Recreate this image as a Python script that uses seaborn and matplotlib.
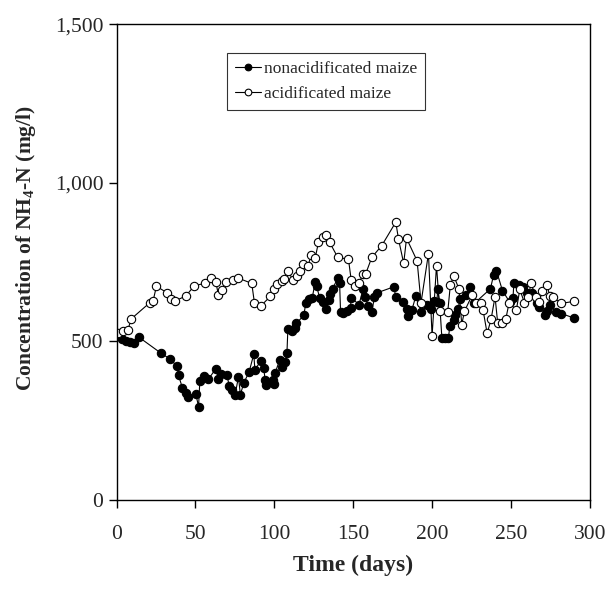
import matplotlib
matplotlib.use("Agg")
import matplotlib.pyplot as plt
from matplotlib.ticker import FuncFormatter
import seaborn as sns
import pandas as pd

# nonacidificated maize (day, NH4-N mg/l)
days_non = [3.4, 5.9, 8.5, 11, 14.3, 27.9, 33.8, 38.4, 39.3, 41.8, 43.9, 45.6, 50.3, 52, 52.8,
            55.3, 58.3, 62.9, 64.6, 66, 70, 71.4, 73, 75.2, 77.3, 78.5, 80.7, 84, 87, 87.7,
            91.3, 93.3, 94.2, 95, 99.2, 100, 100.4, 103.5, 104.6, 106.8, 108, 108.6, 111, 113.2,
            114, 118.7, 120, 121.7, 124, 125.9, 126.8, 128.8, 131, 133, 134.4, 135.6, 137, 140.2,
            141.4, 142, 143.4, 146.1, 148.3, 148.7, 153.7, 156.3, 157.5, 159.5, 161.8, 163.5, 165,
            175.7, 177, 181.6, 183.8, 184.5, 187.2, 189.7, 193.2, 196.5, 199.3, 201, 203, 203.6,
            204.8, 206.2, 208.3, 210.4, 211.2, 213.8, 214.6, 216.3, 218, 221.8, 223.9, 226.8, 237,
            239, 240.8, 244.6, 249.2, 251.3, 251.8, 254.8, 257.7, 260.2, 263.6, 266.5, 267.8,
            271.6, 272.9, 274.6, 278.4, 281.8, 289.8]
conc_non = [507, 501, 499, 496, 513, 464, 445, 422, 393, 353, 337, 326, 334, 294, 375,
            391, 381, 414, 382, 397, 393, 361, 347, 332, 389, 332, 370, 403, 460, 411,
            437, 416, 378, 363, 378, 366, 399, 443, 420, 435, 462, 538, 532, 542,
            557, 582, 622, 634, 636, 687, 674, 637, 624, 603, 630, 651, 666, 700,
            683, 592, 590, 597, 605, 638, 616, 666, 641, 612, 592, 641, 653,
            672, 641, 624, 601, 580, 599, 643, 593, 615, 601, 626, 624, 664,
            622, 511, 511, 511, 548, 567, 582, 603, 634, 647, 672, 620, 666,
            710, 723, 660, 624, 637, 683, 677, 672, 653, 653, 620, 607,
            582, 597, 614, 592, 588, 574]

# acidificated maize
days_acid = [0.8, 3.8, 7.2, 9.3, 21.1, 23.2, 25.3, 32.1, 34.6, 37.2, 43.9, 49.4, 56.2, 59.6, 63,
             64.6, 67.1, 69.7, 73.9, 76.9, 85.7, 87.4, 91.3, 97.5, 99.7, 101.8, 104.6, 106.3, 109,
             111.6, 114.1, 116.2, 118.3, 121.3, 123.3, 125.9, 128, 131, 133, 135, 140.2, 147,
             148.7, 151.2, 153.7, 156.3, 158, 161.8, 168.1, 177, 178.7, 182, 183.8, 190.5, 193,
             197.7, 200, 202.8, 204.9, 209.9, 211.6, 213.8, 217, 218.8, 220.5, 225.5, 227.6, 231,
             232.3, 234.9, 237.4, 239.9, 241.6, 244.1, 246.7, 248.8, 253.4, 255.6, 258.5, 261,
             262.7, 265.7, 267.8, 269.9, 272.9, 274.6, 276.7, 281.8, 289.8]
conc_acid = [527, 534, 536, 571, 622, 628, 674, 653, 634, 628, 643, 676, 683, 700, 687,
             645, 662, 687, 693, 700, 683, 622, 611, 642, 664, 681, 689, 698, 723,
             693, 706, 723, 744, 737, 771, 762, 813, 828, 834, 813, 765, 759,
             695, 676, 685, 712, 714, 765, 802, 876, 823, 746, 825, 754, 622,
             777, 517, 739, 595, 592, 679, 706, 666, 553, 595, 647, 622, 622,
             599, 525, 570, 641, 557, 557, 570, 622, 599, 664, 622, 641,
             683, 641, 624, 660, 677, 643, 639, 620, 626]

x_ticks = [0, 50, 100, 150, 200, 250, 300]
y_ticks = [0, 500, 1000, 1500]

df_non = pd.DataFrame({"day": days_non, "conc": conc_non})
df_acid = pd.DataFrame({"day": days_acid, "conc": conc_acid})

sns.set_style("ticks")
plt.rcParams["font.family"] = ["Liberation Serif", "DejaVu Serif"]
plt.rcParams["mathtext.fontset"] = "custom"
plt.rcParams["mathtext.rm"] = "Liberation Serif"
plt.rcParams["mathtext.bf"] = "Liberation Serif:bold"

fig = plt.figure(figsize=(6.10, 5.89), dpi=100)
ax = fig.add_axes([0.191, 0.151, 0.776, 0.808])

sns.lineplot(data=df_non, x="day", y="conc", sort=False, estimator=None, ax=ax,
             color="black", linewidth=0.8, marker="o", markersize=6,
             markerfacecolor="black", markeredgecolor="black", markeredgewidth=0.8,
             label="nonacidificated maize")
sns.lineplot(data=df_acid, x="day", y="conc", sort=False, estimator=None, ax=ax,
             color="black", linewidth=0.8, marker="o", markersize=6,
             markerfacecolor="white", markeredgecolor="black", markeredgewidth=0.8,
             label="acidificated maize")

ax.set_xlim(0, 300)
ax.set_ylim(0, 1500)
ax.set_xticks(x_ticks)
ax.set_yticks(y_ticks)
ax.yaxis.set_major_formatter(FuncFormatter(lambda v, p: f"{v:,.0f}"))
ax.tick_params(labelsize=15.5, length=6, width=1, color="black")
ax.tick_params(axis="y", pad=3.5)
ax.tick_params(axis="x", pad=12)
for s in ax.spines.values():
    s.set_visible(True)
    s.set_color("black")
    s.set_linewidth(1)

ax.set_xlabel("Time (days)", fontsize=17, fontweight="bold", labelpad=8)
ax.set_ylabel("Concentration of NH$_{\\mathbf{4}}$-N (mg/l)", fontsize=15.5,
              fontweight="bold")
ax.yaxis.set_label_coords(-0.166, 0.53)

leg = ax.legend(loc="upper left", bbox_to_anchor=(0.233, 0.94), borderaxespad=0,
                fontsize=12.5, frameon=True, fancybox=False, handlelength=1.5,
                handletextpad=0.2, borderpad=0.45, labelspacing=0.55, markerscale=0.8)
leg.get_frame().set_edgecolor("black")
leg.get_frame().set_linewidth(0.8)

fig.savefig("out.png", dpi=100)
